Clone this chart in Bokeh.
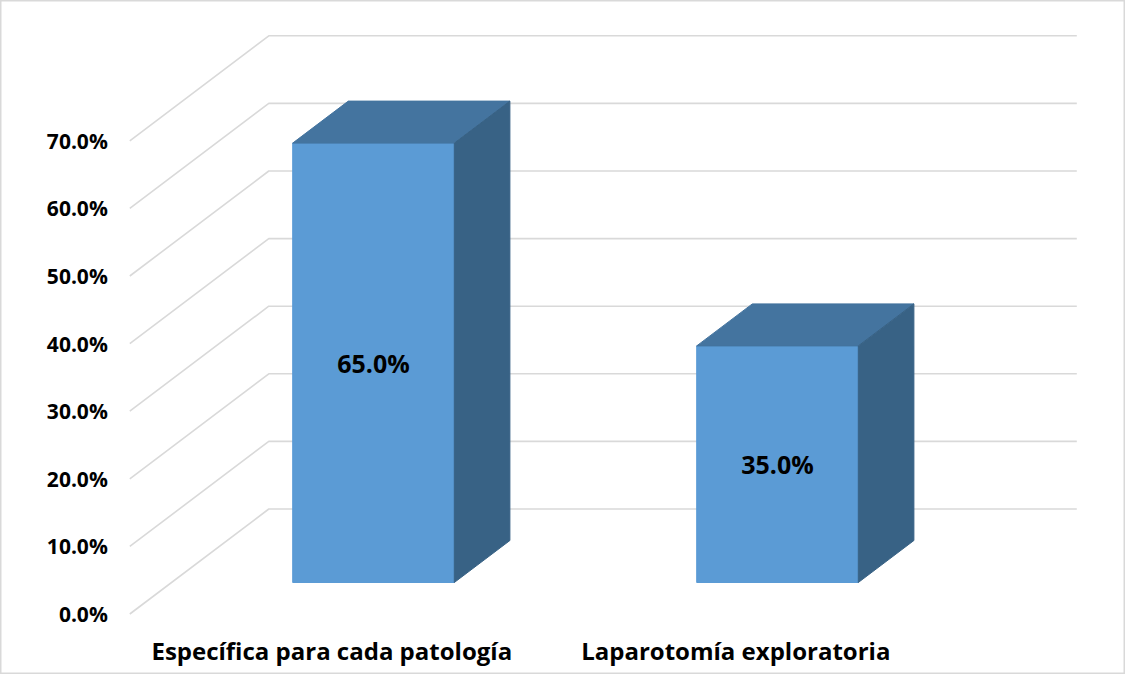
from bokeh.plotting import figure
from bokeh.models import Range1d
from bokeh.core.properties import value
from bokeh.embed import file_html
from bokeh.resources import INLINE

# ---- data ----
categories = ["Específica para cada patología", "Laparotomía exploratoria"]
values = [65.0, 35.0]
tick_values = [0, 10, 20, 30, 40, 50, 60, 70]
tick_labels = ["0.0%", "10.0%", "20.0%", "30.0%", "40.0%", "50.0%", "60.0%", "70.0%"]
value_labels = ["65.0%", "35.0%"]

# ---- styling / geometry ----
FRONT = "#5B9BD5"
TOP = "#44749F"
SIDE = "#386285"
GRID = "#D9D9D9"
FONT = value("Open Sans")

W, H = 1125, 674
PX_X = 404.0   # px per category unit
PX_Y = 6.76    # px per percent
x_start = 1 - 373 / PX_X
y_start = (582 - H) / PX_Y

DX = 139 / PX_X   # full depth offset in data units
DY = 105 / PX_Y
BAR_FRONT, BAR_BACK = 0.3, 0.7
HALF_W = 0.2
WALL_L, WALL_R = 0.5, 2.5


def proj(x, v, d):
    return x + (d - BAR_FRONT) * DX, v + (d - BAR_FRONT) * DY


p = figure(width=W, height=H, output_backend="svg", toolbar_location=None,
           x_range=Range1d(x_start, x_start + W / PX_X),
           y_range=Range1d(y_start, y_start + H / PX_Y),
           min_border=0, background_fill_color="white", border_fill_color="white")
p.axis.visible = False
p.grid.visible = False
p.outline_line_color = GRID
p.outline_line_width = 2

# gridlines: left wall diagonals + back wall
xs, ys = [], []
for t in tick_values:
    a = proj(WALL_L, t, 0)
    b = proj(WALL_L, t, 1)
    c = proj(WALL_R, t, 1)
    xs.append([a[0], b[0], c[0]])
    ys.append([a[1], b[1], c[1]])
p.multi_line(xs, ys, line_color=GRID, line_width=1.6)

# tick labels
tx = [proj(WALL_L, t, 0)[0] for t in tick_values]
ty = [proj(WALL_L, t, 0)[1] for t in tick_values]
p.text(tx, ty, text=tick_labels, text_font=FONT, text_font_style="bold",
       text_font_size="21px", text_align="right", text_baseline="middle",
       x_offset=-22, text_color="#000000")

# bars
positions = [i + 1 for i in range(len(values))]
front_x, front_y, top_x, top_y, side_x, side_y = [], [], [], [], [], []
for c, v in zip(positions, values):
    x0, x1 = c - HALF_W, c + HALF_W
    pts = [proj(x0, 0, BAR_FRONT), proj(x1, 0, BAR_FRONT), proj(x1, v, BAR_FRONT), proj(x0, v, BAR_FRONT)]
    front_x.append([q[0] for q in pts]); front_y.append([q[1] for q in pts])
    pts = [proj(x0, v, BAR_FRONT), proj(x1, v, BAR_FRONT), proj(x1, v, BAR_BACK), proj(x0, v, BAR_BACK)]
    top_x.append([q[0] for q in pts]); top_y.append([q[1] for q in pts])
    pts = [proj(x1, 0, BAR_FRONT), proj(x1, v, BAR_FRONT), proj(x1, v, BAR_BACK), proj(x1, 0, BAR_BACK)]
    side_x.append([q[0] for q in pts]); side_y.append([q[1] for q in pts])

p.patches(front_x, front_y, fill_color=FRONT, line_color=FRONT, line_width=1)
p.patches(top_x, top_y, fill_color=TOP, line_color=TOP, line_width=1)
p.patches(side_x, side_y, fill_color=SIDE, line_color=SIDE, line_width=1)

# value labels on front faces
p.text([proj(c, 0, BAR_FRONT)[0] for c in positions],
       [proj(c, v / 2, BAR_FRONT)[1] for c, v in zip(positions, values)],
       text=value_labels, text_font=FONT, text_font_style="bold",
       text_font_size="25px", text_align="center", text_baseline="middle",
       text_color="#000000")

# category labels at floor front edge
p.text([proj(c, 0, 0)[0] for c in positions],
       [proj(c, 0, 0)[1] for c in positions],
       text=categories, text_font=FONT, text_font_style="bold",
       text_font_size="24px", text_align="center", text_baseline="middle",
       y_offset=36, text_color="#000000")

open("out.html", "w").write(file_html(p, INLINE))
